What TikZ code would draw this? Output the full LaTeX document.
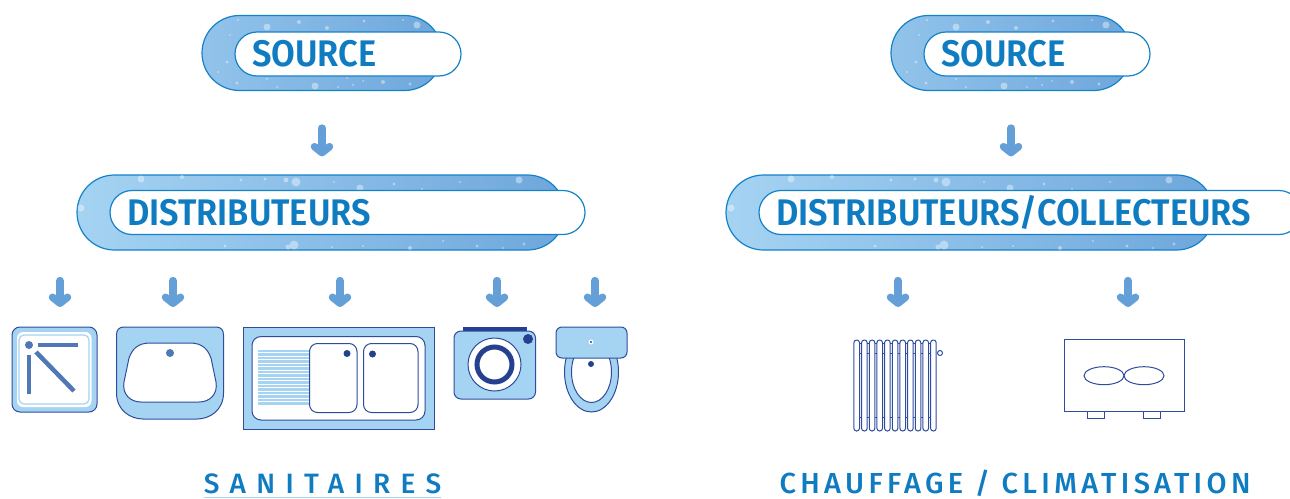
\documentclass[tikz,border=0pt]{standalone}
\usepackage{fontspec}
\usepackage{xcolor}
\usetikzlibrary{arrows.meta}
\setmainfont{Fira Sans}
\newfontfamily\titlefont[FakeStretch=0.93]{Fira Sans SemiBold}
\newfontfamily\spacedA[LetterSpace=37]{Fira Sans Medium}
\newfontfamily\spacedB[LetterSpace=15]{Fira Sans Medium}
\definecolor{titleblue}{HTML}{0F7CC2}
\definecolor{pillline}{HTML}{1482C8}
\definecolor{arrowblue}{HTML}{659FD8}
\definecolor{itemfill}{HTML}{A5D3F2}
\definecolor{itemline}{HTML}{2F4C9C}
\definecolor{dotblue}{HTML}{4F78B4}
\definecolor{darkblue}{HTML}{24408F}
\tikzset{
  outerpill/.style={draw=pillline, line width=1.2pt, rounded corners=37.5pt, minimum height=75pt, inner sep=0pt},
  innerpill/.style={draw=pillline, line width=1.2pt, fill=white, rounded corners=22pt, minimum height=44pt, inner xsep=17pt, inner ysep=0pt, align=left, text=titleblue, font=\titlefont\fontsize{37}{40}\selectfont},
  downarrow/.style={arrowblue, line width=7.5pt, line cap=round, -{Straight Barb[length=6pt,width=15pt,round]}},
  itemshape/.style={draw=itemline, line width=1pt, fill=itemfill},
  thinline/.style={draw=itemline, line width=1pt},
  drop/.style={fill=white, fill opacity=0.4, draw=none},
}
\newcommand{\srcdrops}{
  \foreach \x/\y/\r in {238/20/1.2,299/22/2,327/28/2,364/21/1.6,403/20/1.2,267/27/3.5,417/25/3.5,230/35/1,227/62/1.6,218/72/1.2,237/83/1.6,267/79/1.2,277/87/1.2,315/86/3.5,338/87/1.2,353/85/1.2,383/82/2,410/84/1.6,363/81/1,347/78/1}
    \fill[drop] (\x,\y) circle (\r);
}
\newcommand{\distdrops}{
  \foreach \x/\y/\r in {141/179/3.5,182/177/2,241/180/1.6,265/179/1.6,296/182/4.5,286/180/2.5,334/182/1.2,394/184/1.6,460/182/1.2,519/180/3.5,360/188/3.5,422/189/1.2,81/208/3.5,225/246/1.6,294/245/4.5,288/247/2.5,332/247/1.2,363/246/1.2,410/248/2,443/241/1.2,477/246/1.6,503/248/1.2,524/244/1.6}
    \fill[drop] (\x,\y) circle (\r);
}
\begin{document}
\begin{tikzpicture}[x=1pt,y=-1pt]
\clip (0,0) rectangle (1290,498);

\node[outerpill, minimum width=240pt, left color=itemfill!70!arrowblue, right color=arrowblue!85!itemfill] (srcL) at (322,53) {};
\srcdrops
\node[innerpill, text width=192pt] (srcInL) at (348,54) {SOURCE};
\node[outerpill, minimum width=488pt, left color=itemfill, right color=arrowblue!85!itemfill] (distL) at (321,212.5) {};
\distdrops
\node[innerpill, text width=441pt] (distInL) at (347.5,212.5) {DISTRIBUTEURS};

\node[outerpill, minimum width=240pt, left color=itemfill!70!arrowblue, right color=arrowblue!85!itemfill] (srcR) at (1011,53) {};
\begin{scope}[xshift=689pt]\srcdrops\end{scope}
\node[innerpill, text width=192pt] (srcInR) at (1037,54) {SOURCE};
\node[outerpill, minimum width=488pt, left color=itemfill, right color=arrowblue!85!itemfill] (distR) at (970,212.5) {};
\begin{scope}[xshift=650pt]\distdrops\end{scope}
\node[innerpill, text width=508pt] (distInR) at (1030,212.5) {DISTRIBUTEURS/COLLECTEURS};

\coordinate (bathtop) at (60,327);
\coordinate (basintop) at (173,327);
\coordinate (sinktop) at (340,327);
\coordinate (washertop) at (497,327);
\coordinate (toilettop) at (595,327);
\coordinate (radiatortop) at (898,327);
\coordinate (fantop) at (1128,327);

\draw[downarrow, shorten <=37pt, shorten >=18pt] (srcL.south) -- (srcL.south |- distL.north);
\draw[downarrow, shorten <=37pt, shorten >=18pt] (srcR.south) -- (srcR.south |- distR.north);
\foreach \t in {bathtop,basintop,sinktop,washertop,toilettop}
  \draw[downarrow, shorten <=30pt, shorten >=20pt] (distL.south -| \t) -- (\t);
\foreach \t in {radiatortop,fantop}
  \draw[downarrow, shorten <=30pt, shorten >=20pt] (distR.south -| \t) -- (\t);

\draw[itemshape, rounded corners=8pt] (12,327) rectangle (97,412);
\fill[white, rounded corners=6pt] (17,332) rectangle (91.5,407);
\draw[itemfill, line width=1.2pt, rounded corners=5pt] (19,335) rectangle (89,404);
\fill[dotblue] (29,345) circle (4);
\draw[dotblue, line width=4.5pt] (38,345) -- (78,345);
\draw[dotblue, line width=4.5pt] (29,355) -- (29,394);
\draw[dotblue, line width=4.5pt] (36,352) -- (74,391);

\draw[itemshape] (124,327) -- (216,327) .. controls (221,327) and (223.5,330) .. (223.5,335) -- (223.5,393) .. controls (223.5,410) and (210,419) .. (197,419) -- (143,419) .. controls (130,419) and (116.5,410) .. (116.5,393) -- (116.5,335) .. controls (116.5,330) and (119,327) .. (124,327) -- cycle;
\draw[thinline, fill=white] (150,343) -- (190,343) .. controls (203,343) and (208,350) .. (211,358) -- (216,382) .. controls (218,394) and (210,402) .. (199,402) -- (141,402) .. controls (130,402) and (122,394) .. (124,382) -- (129,358) .. controls (132,350) and (137,343) .. (150,343) -- cycle;
\fill[dotblue] (170,353) circle (4);

\draw[itemshape] (243.5,327) rectangle (434,429.5);
\draw[thinline, fill=white, rounded corners=9pt] (252,336.5) rectangle (425,420);
\foreach \y in {351,354.5,...,405}
  \draw[itemfill, line width=2.8pt] (258,\y) -- (310,\y);
\draw[thinline, fill=white, rounded corners=8pt] (309.5,343.5) rectangle (357,412.5);
\draw[thinline, fill=white, rounded corners=8pt] (363.5,343.5) rectangle (418,412.5);
\fill[darkblue] (347,353.5) circle (3.5);
\fill[darkblue] (372.5,354) circle (3.5);

\fill[darkblue] (463,326.5) rectangle (527,332);
\draw[itemshape, rounded corners=7pt] (454,331) rectangle (535.5,399);
\fill[darkblue] (528,339) circle (5);
\draw[thinline, fill=white] (494.5,364.5) circle (26.5);
\draw[darkblue, line width=5pt] (494.5,364.5) circle (17.5);

\draw[itemshape] (591.5,372) ellipse (27 and 40);
\draw[thinline, fill=white] (591.5,372) ellipse (20 and 30.5);
\fill[darkblue] (591,364) circle (3);
\draw[itemshape, rounded corners=6pt] (556,327) rectangle (627,358);
\fill[white] (591,342) circle (2.5);
\fill[darkblue] (591,342) circle (1.2);

\foreach \i in {0,...,10}
  \draw[thinline, rounded corners=2.7pt] ({853.9+7.67*\i},431) -- ({853.9+7.67*\i},340) -- ({859.5+7.67*\i},340) -- ({859.5+7.67*\i},431) -- cycle;
\foreach \y in {343.5,353,417.7}
  \foreach \i in {0,...,9}
    \draw[itemline, line width=0.8pt] ({859.5+7.67*\i},\y) -- ({861.6+7.67*\i},\y);
\draw[thinline] (940,353) circle (2.5);

\draw[thinline] (1064,339.5) rectangle (1184,411.7);
\draw[thinline] (1104,375.7) ellipse (20 and 9);
\draw[thinline] (1144,375.7) ellipse (20 and 9);
\draw[thinline] (1087.7,411.7) rectangle (1104.5,418);
\draw[thinline] (1143.3,411.7) rectangle (1160,418);

\node[text=titleblue, inner sep=0pt, anchor=base] (sanitaires) at (322.5,493) {\spacedA\fontsize{28}{30}\selectfont SANITAIRES};
\draw[itemfill, line width=1pt] (sanitaires.west |- 0,497) -- (sanitaires.east |- 0,497);
\node[text=titleblue, inner sep=0pt, anchor=base] (climat) at (1015,493) {\spacedB\fontsize{29}{30}\selectfont CHAUFFAGE / CLIMATISATION};
\end{tikzpicture}
\end{document}
